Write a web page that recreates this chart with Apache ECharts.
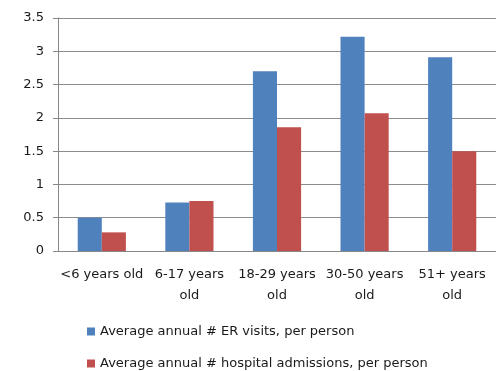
<!DOCTYPE html>
<html>
<head>
<meta charset="utf-8">
<script src="https://cdn.jsdelivr.net/npm/echarts@6/dist/echarts.min.js"></script>
<style>
  html, body { margin: 0; padding: 0; background: #fff; }
  #chart { width: 496px; height: 371px; }
</style>
</head>
<body>
<div id="chart"></div>
<script>
const categories = ['<6 years old', '6-17 years\nold', '18-29 years\nold', '30-50 years\nold', '51+ years\nold'];
const erVisits = [0.50, 0.73, 2.70, 3.22, 2.91];
const hospitalAdmissions = [0.28, 0.75, 1.86, 2.07, 1.50];
const seriesNames = ['Average annual # ER visits, per person', 'Average annual # hospital admissions, per person'];

const font = '"DejaVu Sans", sans-serif';
const textColor = '#1a1a1a';

// one legend entry per row, stacked under the plot
function legendRow(name, top) {
  return {
    orient: 'vertical',
    left: 87,
    top: top,
    padding: 0,
    itemWidth: 8,
    itemHeight: 8,
    itemGap: 6,
    icon: 'rect',
    textStyle: { fontFamily: font, fontSize: 13, color: textColor },
    data: [name]
  };
}

const chart = echarts.init(document.getElementById('chart'));
chart.setOption({
  animation: false,
  color: ['#4F81BD', '#C0504D'],
  grid: { left: 58, top: 18, height: 233, width: 443 },
  legend: [legendRow(seriesNames[0], 325), legendRow(seriesNames[1], 357)],
  xAxis: {
    type: 'category',
    data: categories,
    axisLine: { lineStyle: { color: '#888' } },
    axisTick: { length: 5, lineStyle: { color: '#888' } },
    axisLabel: { fontFamily: font, fontSize: 13, color: textColor, lineHeight: 21, margin: 13, interval: 0 }
  },
  yAxis: {
    type: 'value',
    min: 0,
    max: 3.5,
    interval: 0.5,
    axisLine: { show: true, lineStyle: { color: '#888' } },
    axisTick: { show: true, length: 5, lineStyle: { color: '#888' } },
    axisLabel: { fontFamily: font, fontSize: 13, color: textColor, margin: 14 },
    splitLine: { lineStyle: { color: '#8c8c8c' } }
  },
  series: [
    { name: seriesNames[0], type: 'bar', data: erVisits, barGap: '0%', barCategoryGap: '45%' },
    { name: seriesNames[1], type: 'bar', data: hospitalAdmissions, barGap: '0%', barCategoryGap: '45%' }
  ]
});
</script>
</body>
</html>
